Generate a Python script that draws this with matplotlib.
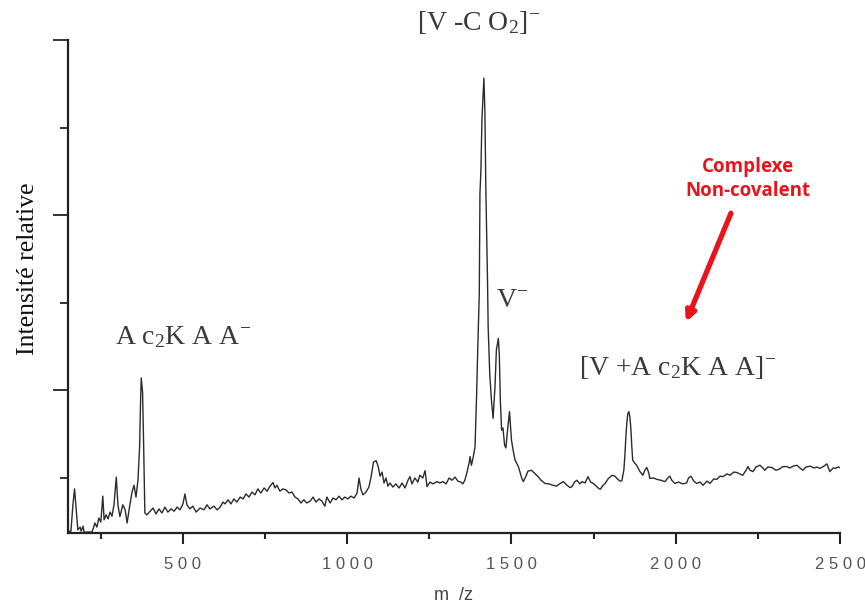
import numpy as np
import matplotlib
matplotlib.use("Agg")
import matplotlib.pyplot as plt
from matplotlib.ticker import FixedLocator

plt.rcParams['mathtext.fontset'] = 'custom'
plt.rcParams['mathtext.rm'] = 'Liberation Serif'
plt.rcParams['mathtext.it'] = 'Liberation Serif:italic'

# spectrum (m/z, relative intensity, main peak = 100)
mz = [150, 159, 165, 170, 174, 180, 187, 190, 196, 199, 205, 223, 232, 238, 244, 250,
      256, 260, 266, 272, 278, 284, 290, 297, 302, 308, 317, 324, 330, 336, 345, 351,
      357, 363, 368, 371, 373, 377, 380, 384, 390, 400, 409, 418, 427, 436, 445, 454,
      464, 473, 482, 491, 500, 506, 512, 521, 530, 540, 552, 564, 573, 582, 594, 604,
      613, 622, 628, 637, 646, 655, 664, 674, 683, 692, 701, 710, 719, 728, 737, 747,
      756, 765, 774, 780, 786, 795, 804, 813, 823, 832, 841, 850, 859, 868, 877, 887,
      896, 905, 914, 923, 932, 938, 948, 957, 966, 975, 984, 993, 1002, 1011, 1021, 1030,
      1036, 1042, 1048, 1057, 1066, 1072, 1080, 1088, 1094, 1100, 1106, 1112, 1118, 1124, 1130, 1139,
      1148, 1158, 1167, 1176, 1185, 1191, 1197, 1206, 1215, 1221, 1230, 1237, 1243, 1252, 1261, 1273,
      1282, 1291, 1301, 1310, 1319, 1328, 1337, 1346, 1352, 1358, 1364, 1371, 1374, 1378, 1383, 1389,
      1394, 1398, 1402, 1404, 1407, 1410, 1413, 1416, 1419, 1422, 1424, 1427, 1429, 1434, 1439, 1444,
      1450, 1454, 1460, 1463, 1466, 1470, 1474, 1479, 1483, 1488, 1494, 1497, 1500, 1505, 1511, 1521,
      1531, 1536, 1544, 1550, 1561, 1572, 1581, 1590, 1602, 1614, 1626, 1637, 1648, 1658, 1669, 1678,
      1684, 1692, 1699, 1708, 1715, 1724, 1733, 1741, 1749, 1758, 1764, 1770, 1779, 1785, 1794, 1806,
      1815, 1821, 1830, 1836, 1842, 1845, 1848, 1851, 1854, 1857, 1860, 1863, 1866, 1869, 1875, 1881,
      1891, 1900, 1906, 1912, 1918, 1921, 1933, 1942, 1955, 1967, 1976, 1982, 1988, 1997, 2009, 2021,
      2033, 2039, 2046, 2055, 2064, 2074, 2083, 2095, 2104, 2116, 2125, 2135, 2144, 2156, 2165, 2177,
      2186, 2195, 2204, 2214, 2220, 2226, 2235, 2244, 2256, 2265, 2271, 2280, 2293, 2305, 2314, 2326,
      2338, 2348, 2357, 2369, 2378, 2387, 2396, 2409, 2421, 2430, 2439, 2451, 2460, 2469, 2479, 2485,
      2494, 2500]
intensity = [0.4, 0.4, 6.2, 9.7, 6.2, 0.7, 1.3, 0.4, 1.5, 0.2, 0.2, 0.2, 2.2, 1.3, 3.3, 2.4,
             8.1, 2.9, 4.0, 3.1, 4.6, 3.7, 6.2, 12.3, 6.2, 3.6, 6.2, 5.1, 2.2, 5.1, 9.0, 10.5,
             7.9, 11.6, 18.9, 29.2, 34.1, 31.0, 20.4, 4.4, 4.0, 4.8, 5.5, 4.2, 5.3, 4.4, 5.7, 4.6,
             5.3, 4.8, 5.7, 5.1, 6.4, 8.6, 6.2, 5.3, 5.9, 4.6, 5.5, 5.1, 6.2, 5.3, 5.9, 5.1,
             5.7, 6.8, 6.4, 7.3, 6.4, 7.5, 6.8, 7.9, 7.5, 8.6, 7.9, 9.0, 8.4, 9.7, 8.8, 9.9,
             9.2, 10.3, 11.1, 9.9, 10.5, 9.2, 9.7, 9.5, 8.8, 9.0, 7.9, 7.5, 6.6, 7.3, 6.6, 7.0,
             7.9, 6.8, 7.5, 7.0, 5.9, 7.9, 6.6, 7.7, 7.3, 8.1, 7.3, 7.9, 7.5, 8.1, 7.7, 8.8,
             12.1, 9.5, 8.4, 9.0, 10.1, 12.1, 15.6, 15.9, 14.7, 12.5, 13.4, 11.0, 12.1, 10.3, 11.0, 10.1,
             10.8, 9.9, 11.0, 9.9, 11.6, 12.4, 10.8, 12.1, 11.2, 12.7, 12.1, 13.7, 10.2, 11.2, 10.8, 11.3,
             11.0, 11.3, 10.8, 12.1, 11.6, 12.3, 11.4, 11.2, 10.8, 11.6, 13.2, 15.4, 16.8, 14.9, 16.5, 18.9,
             30.8, 42.4, 52.7, 74.7, 79.8, 90.8, 95.2, 100.0, 93.0, 75.4, 67.3, 55.6, 45.3, 34.7, 29.2, 25.2,
             32.5, 40.2, 42.8, 39.1, 29.2, 22.6, 23.1, 19.3, 18.7, 22.6, 26.7, 23.7, 20.4, 18.2, 16.0, 14.6,
             12.1, 11.3, 12.5, 13.6, 13.8, 13.0, 12.4, 11.6, 10.9, 10.8, 10.5, 10.3, 10.9, 11.3, 10.5, 10.0,
             10.2, 11.2, 11.6, 10.8, 11.3, 11.0, 12.4, 11.2, 10.9, 10.3, 9.9, 9.6, 10.5, 10.9, 11.9, 12.7,
             12.5, 12.0, 11.4, 11.5, 13.8, 16.8, 20.9, 24.1, 26.2, 26.7, 25.7, 23.4, 19.3, 16.0, 15.4, 14.9,
             13.5, 12.7, 13.8, 14.4, 13.2, 12.0, 12.1, 11.8, 11.6, 11.3, 12.1, 12.5, 11.6, 10.9, 11.2, 10.8,
             11.0, 12.1, 12.5, 11.4, 10.9, 11.2, 10.5, 11.4, 10.9, 11.9, 11.8, 12.5, 12.4, 13.0, 12.7, 13.4,
             13.3, 13.0, 12.7, 13.8, 14.6, 13.8, 13.5, 14.5, 14.9, 14.3, 13.8, 14.5, 14.4, 13.8, 14.0, 14.6,
             14.6, 14.3, 14.7, 14.9, 14.3, 13.8, 14.5, 14.7, 14.3, 14.5, 14.2, 14.7, 15.2, 13.5, 14.3, 14.2,
             14.5, 14.4]

xticks_major = [500, 1000, 1500, 2000, 2500]
xticks_minor = [250, 750, 1250, 1750, 2250]

fig = plt.figure(figsize=(8.65, 6.07), dpi=100)
ax = fig.add_axes([0.0786, 0.1219, 0.8925, 0.8122])

ax.plot(mz, intensity, color='#2b2b2b', lw=1.0)

ymax = 108.4
step = 19.25
ax.set_xlim(150, 2500)
ax.set_ylim(0, ymax)

ax.xaxis.set_major_locator(FixedLocator(xticks_major))
ax.xaxis.set_minor_locator(FixedLocator(xticks_minor))
ax.set_xticklabels([' '.join(str(t)) for t in xticks_major])
ax.yaxis.set_major_locator(FixedLocator([ymax - 2 * step * k for k in range(3)]))
ax.yaxis.set_minor_locator(FixedLocator([ymax - step - 2 * step * k for k in range(3)]))
ax.set_yticklabels([])

for s in ['top', 'right']:
    ax.spines[s].set_visible(False)
for s in ['left', 'bottom']:
    ax.spines[s].set_linewidth(1.6)
    ax.spines[s].set_color('#222222')

ax.tick_params(axis='x', which='major', length=8, width=1.5, color='#222222',
               labelsize=12, labelcolor='#555555', pad=9)
ax.tick_params(axis='x', which='minor', length=4, width=1.5, color='#222222')
ax.tick_params(axis='y', which='major', length=11, width=1.3, color='#222222')
ax.tick_params(axis='y', which='minor', length=6, width=1.3, color='#222222')
for lab in ax.get_xticklabels():
    lab.set_family('Liberation Sans')

ax.set_xlabel('m  /z', fontsize=13, color='#444444', family='Liberation Sans', labelpad=11)
ax.set_ylabel('Intensité relative', fontsize=18.5, family='Liberation Serif', color='#111111')
ax.yaxis.set_label_coords(-0.037, 0.535)

lbl = dict(ha='center', va='center', fontsize=20, family='Liberation Serif', color='#3a3a3a')
ax.text(1400, 112.3, '[V -C O$_2$]$^{-}$', **lbl)
ax.text(1501, 51.2, 'V$^{-}$', **lbl)
ax.text(500, 43.1, 'A c$_2$K A A$^{-}$', **lbl)
ax.text(2007, 36.3, '[V +A c$_2$K A A]$^{-}$', **lbl)

ax.text(2220, 77.8, 'Complexe\nNon-covalent', ha='center', va='center', fontsize=13.5,
        fontweight='bold', family='Open Sans', color='#e8141c', linespacing=1.25)
ax.annotate('', xy=(2031, 46.4), xytext=(2168, 70.3),
            arrowprops=dict(arrowstyle='-|>', color='#e8141c', lw=3.8, mutation_scale=14,
                            shrinkA=0, shrinkB=0))

fig.savefig('out.png', dpi=100)
